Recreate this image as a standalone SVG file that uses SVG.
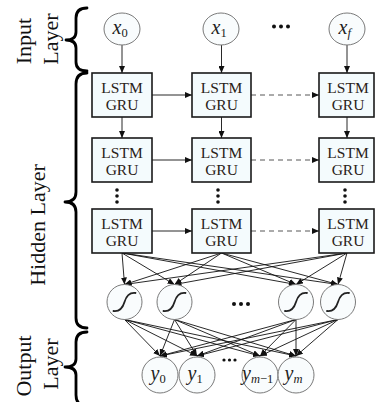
<svg xmlns="http://www.w3.org/2000/svg" width="375" height="402" viewBox="0 0 375 402">
<defs>
<marker id="ah" markerWidth="7" markerHeight="6" refX="7" refY="3" orient="auto" markerUnits="userSpaceOnUse"><path d="M0,0 L7,3 L0,6 z" fill="#111"/></marker>
</defs>
<style>
.lbl{font-family:"Liberation Serif","Times New Roman",serif;font-size:22px;fill:#111;text-anchor:middle}
.box{fill:#f4fbfd;stroke:#1a1a1a;stroke-width:1.6}
.bt{font-family:"Liberation Serif","Times New Roman",serif;font-size:15.5px;fill:#2a2218;text-anchor:middle}
.circ{fill:#f9fcfd;stroke:#7a7a7a;stroke-width:1}
.var{font-family:"Liberation Serif","Times New Roman",serif;font-size:20px;fill:#222;font-style:italic}
.sub{font-size:12.5px;font-style:normal}
.subi{font-size:12.5px;font-style:italic}
.ar{stroke:#111;stroke-width:0.9;fill:none;marker-end:url(#ah)}
.dash{stroke:#444;stroke-width:0.9;fill:none;stroke-dasharray:5,4;marker-end:url(#ah)}
.brace{fill:none;stroke:#000;stroke-width:2.8;stroke-linecap:round;stroke-linejoin:round}
.sig{fill:none;stroke:#222;stroke-width:1.8;stroke-linecap:round}
.dot{fill:#111}
</style>

<g id="labels">
<text class="lbl" transform="translate(31,41) rotate(-90)">Input</text>
<text class="lbl" transform="translate(58,39) rotate(-90)">Layer</text>
<text class="lbl" transform="translate(45,225) rotate(-90)">Hidden Layer</text>
<text class="lbl" transform="translate(31,366) rotate(-90)">Output</text>
<text class="lbl" transform="translate(58,364) rotate(-90)">Layer</text>
</g>

<g id="braces">
<path class="brace" d="M87,8 Q76,8 76,18 L76,32 Q76,40 66,40 Q76,40 76,48 L76,62 Q76,71 87,71"/>
<path class="brace" d="M87,73 Q76,73 76,84 L76,192 Q76,202 65,202 Q76,202 76,212 L76,318 Q76,328 87,328"/>
<path class="brace" d="M87,332 Q76,332 76,342 L76,359 Q76,367 65,367 Q76,367 76,375 L76,395 Q76,406 87,406"/>
</g>

<g id="connectors">
<line class="ar" x1="122" y1="45" x2="122" y2="73"/>
<line class="ar" x1="221.5" y1="45" x2="221.5" y2="73"/>
<line class="ar" x1="347" y1="45" x2="347" y2="73"/>
<line class="ar" x1="122" y1="117" x2="122" y2="138"/>
<line class="ar" x1="221.5" y1="117" x2="221.5" y2="138"/>
<line class="ar" x1="347" y1="117" x2="347" y2="138"/>
<line class="ar" x1="152" y1="95" x2="192" y2="95"/>
<line class="dash" x1="251" y1="95" x2="319" y2="95"/>
<line class="ar" x1="152" y1="160" x2="192" y2="160"/>
<line class="dash" x1="251" y1="160" x2="319" y2="160"/>
<line class="ar" x1="152" y1="231" x2="192" y2="231"/>
<line class="dash" x1="251" y1="231" x2="319" y2="231"/>
<line class="ar" x1="122" y1="253" x2="124.5" y2="284.5"/>
<line class="ar" x1="122" y1="253" x2="174.5" y2="284.5"/>
<line class="ar" x1="122" y1="253" x2="296" y2="284.5"/>
<line class="ar" x1="122" y1="253" x2="338" y2="284.5"/>
<line class="ar" x1="221.5" y1="253" x2="124.5" y2="284.5"/>
<line class="ar" x1="221.5" y1="253" x2="174.5" y2="284.5"/>
<line class="ar" x1="221.5" y1="253" x2="296" y2="284.5"/>
<line class="ar" x1="221.5" y1="253" x2="338" y2="284.5"/>
<line class="ar" x1="347" y1="253" x2="124.5" y2="284.5"/>
<line class="ar" x1="347" y1="253" x2="174.5" y2="284.5"/>
<line class="ar" x1="347" y1="253" x2="296" y2="284.5"/>
<line class="ar" x1="347" y1="253" x2="338" y2="284.5"/>
<line class="ar" x1="124.5" y1="319.5" x2="160" y2="356"/>
<line class="ar" x1="124.5" y1="319.5" x2="197" y2="356"/>
<line class="ar" x1="124.5" y1="319.5" x2="260" y2="356"/>
<line class="ar" x1="124.5" y1="319.5" x2="296" y2="356"/>
<line class="ar" x1="174.5" y1="319.5" x2="160" y2="356"/>
<line class="ar" x1="174.5" y1="319.5" x2="197" y2="356"/>
<line class="ar" x1="174.5" y1="319.5" x2="260" y2="356"/>
<line class="ar" x1="174.5" y1="319.5" x2="296" y2="356"/>
<line class="ar" x1="296" y1="319.5" x2="160" y2="356"/>
<line class="ar" x1="296" y1="319.5" x2="197" y2="356"/>
<line class="ar" x1="296" y1="319.5" x2="260" y2="356"/>
<line class="ar" x1="296" y1="319.5" x2="296" y2="356"/>
<line class="ar" x1="338" y1="319.5" x2="160" y2="356"/>
<line class="ar" x1="338" y1="319.5" x2="197" y2="356"/>
<line class="ar" x1="338" y1="319.5" x2="260" y2="356"/>
<line class="ar" x1="338" y1="319.5" x2="296" y2="356"/>
</g>

<g id="input-x0"><ellipse class="circ" cx="122" cy="29" rx="18" ry="16"/><text class="var" x="112.5" y="34">x<tspan class="sub" dy="3">0</tspan></text></g>
<g id="input-x1"><ellipse class="circ" cx="221" cy="29" rx="18" ry="16"/><text class="var" x="211.5" y="34">x<tspan class="sub" dy="3">1</tspan></text></g>
<g id="input-dots"><circle class="dot" cx="274" cy="26.5" r="2"/><circle class="dot" cx="281" cy="26.5" r="2"/><circle class="dot" cx="288" cy="26.5" r="2"/></g>
<g id="input-xf"><ellipse class="circ" cx="347" cy="29" rx="18" ry="16"/><text class="var" x="338.5" y="34">x<tspan class="subi" dy="3">f</tspan></text></g>

<g id="cell-1-1"><rect class="box" x="92" y="73" width="60" height="44"/><text class="bt" x="122" y="93">LSTM</text><text class="bt" x="122" y="110">GRU</text></g>
<g id="cell-1-2"><rect class="box" x="192" y="73" width="59" height="44"/><text class="bt" x="221.5" y="93">LSTM</text><text class="bt" x="221.5" y="110">GRU</text></g>
<g id="cell-1-3"><rect class="box" x="319" y="73" width="55" height="44"/><text class="bt" x="348" y="93">LSTM</text><text class="bt" x="348" y="110">GRU</text></g>
<g id="cell-2-1"><rect class="box" x="92" y="138" width="60" height="44"/><text class="bt" x="122" y="158">LSTM</text><text class="bt" x="122" y="175">GRU</text></g>
<g id="cell-2-2"><rect class="box" x="192" y="138" width="59" height="44"/><text class="bt" x="221.5" y="158">LSTM</text><text class="bt" x="221.5" y="175">GRU</text></g>
<g id="cell-2-3"><rect class="box" x="319" y="138" width="55" height="44"/><text class="bt" x="348" y="158">LSTM</text><text class="bt" x="348" y="175">GRU</text></g>
<g id="vdots">
<circle class="dot" cx="117" cy="190" r="1.8"/><circle class="dot" cx="117" cy="196" r="1.8"/><circle class="dot" cx="117" cy="202" r="1.8"/>
<circle class="dot" cx="218" cy="190" r="1.8"/><circle class="dot" cx="218" cy="196" r="1.8"/><circle class="dot" cx="218" cy="202" r="1.8"/>
<circle class="dot" cx="345" cy="190" r="1.8"/><circle class="dot" cx="345" cy="196" r="1.8"/><circle class="dot" cx="345" cy="202" r="1.8"/>
</g>
<g id="cell-3-1"><rect class="box" x="92" y="209" width="60" height="44"/><text class="bt" x="122" y="229">LSTM</text><text class="bt" x="122" y="246">GRU</text></g>
<g id="cell-3-2"><rect class="box" x="192" y="209" width="59" height="44"/><text class="bt" x="221.5" y="229">LSTM</text><text class="bt" x="221.5" y="246">GRU</text></g>
<g id="cell-3-3"><rect class="box" x="319" y="209" width="55" height="44"/><text class="bt" x="348" y="229">LSTM</text><text class="bt" x="348" y="246">GRU</text></g>

<g id="sig-1"><circle class="circ" cx="124.5" cy="302" r="17.5"/><path class="sig" d="M113.5,311 Q121.5,312 124.5,302 Q127.5,292 135.5,293"/></g>
<g id="sig-2"><circle class="circ" cx="174.5" cy="302" r="17.5"/><path class="sig" d="M163.5,311 Q171.5,312 174.5,302 Q177.5,292 185.5,293"/></g>
<g id="sig-dots"><circle class="dot" cx="234" cy="304" r="2"/><circle class="dot" cx="241" cy="304" r="2"/><circle class="dot" cx="248" cy="304" r="2"/></g>
<g id="sig-3"><circle class="circ" cx="296" cy="302" r="17.5"/><path class="sig" d="M285,311 Q293,312 296,302 Q299,292 307,293"/></g>
<g id="sig-4"><circle class="circ" cx="338" cy="302" r="17.5"/><path class="sig" d="M327,311 Q335,312 338,302 Q341,292 349,293"/></g>

<g id="out-y0"><circle class="circ" cx="160" cy="375" r="18"/><text class="var" x="150.5" y="380">y<tspan class="sub" dy="3">0</tspan></text></g>
<g id="out-y1"><circle class="circ" cx="197" cy="375" r="18"/><text class="var" x="187.5" y="380">y<tspan class="sub" dy="3">1</tspan></text></g>
<g id="out-dots"><circle class="dot" cx="224" cy="360" r="1.6"/><circle class="dot" cx="229.5" cy="360" r="1.6"/><circle class="dot" cx="235" cy="360" r="1.6"/></g>
<g id="out-ym1"><circle class="circ" cx="260" cy="375" r="18"/><text class="var" x="242" y="380">y<tspan class="subi" dy="3">m</tspan><tspan class="sub">−1</tspan></text></g>
<g id="out-ym"><circle class="circ" cx="296" cy="375" r="18"/><text class="var" x="284.5" y="380">y<tspan class="subi" dy="3">m</tspan></text></g>
</svg>
